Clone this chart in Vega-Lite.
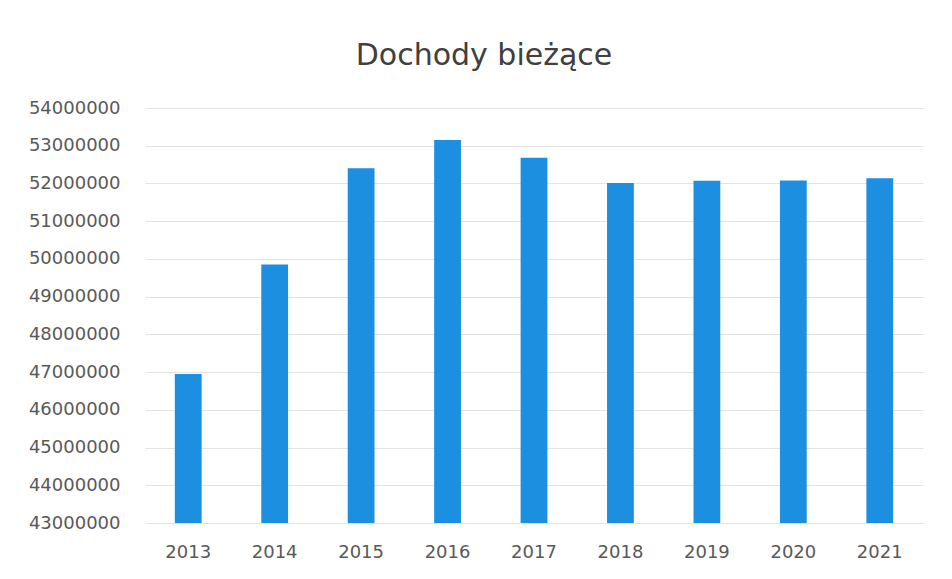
{
  "$schema": "https://vega.github.io/schema/vega-lite/v6.json",
  "width": 778,
  "height": 415,
  "autosize": {"type": "none"},
  "padding": {"left": 145, "top": 108, "right": 29, "bottom": 56},
  "background": "white",
  "title": {
    "text": "Dochody bieżące",
    "font": "DejaVu Sans",
    "fontSize": 30,
    "fontWeight": "normal",
    "color": "#404040",
    "anchor": "middle",
    "dx": -50,
    "baseline": "alphabetic",
    "offset": 4
  },
  "data": {
    "values": [
      {"rok": "2013", "wartosc": 46950000},
      {"rok": "2014", "wartosc": 49850000},
      {"rok": "2015", "wartosc": 52400000},
      {"rok": "2016", "wartosc": 53150000},
      {"rok": "2017", "wartosc": 52680000},
      {"rok": "2018", "wartosc": 52010000},
      {"rok": "2019", "wartosc": 52070000},
      {"rok": "2020", "wartosc": 52080000},
      {"rok": "2021", "wartosc": 52140000}
    ]
  },
  "mark": {"type": "bar", "color": "#1d8fe1"},
  "encoding": {
    "x": {
      "field": "rok",
      "type": "ordinal",
      "scale": {"paddingInner": 0.69, "paddingOuter": 0.345},
      "axis": {
        "title": null,
        "labelAngle": 0,
        "labelFont": "DejaVu Sans",
        "labelFontSize": 18,
        "labelColor": "#595959",
        "labelPadding": 20,
        "ticks": false,
        "domain": false,
        "grid": false
      }
    },
    "y": {
      "field": "wartosc",
      "type": "quantitative",
      "scale": {"domain": [43000000, 54000000], "zero": false, "nice": false},
      "axis": {
        "title": null,
        "values": [43000000, 44000000, 45000000, 46000000, 47000000, 48000000, 49000000, 50000000, 51000000, 52000000, 53000000, 54000000],
        "format": "d",
        "labelFont": "DejaVu Sans",
        "labelFontSize": 18,
        "labelColor": "#595959",
        "labelPadding": 25,
        "ticks": false,
        "domain": false,
        "grid": true,
        "gridColor": "#e3e3e3",
        "gridWidth": 1
      }
    },
    "y2": {"datum": 43000000}
  },
  "config": {"view": {"stroke": null}}
}
